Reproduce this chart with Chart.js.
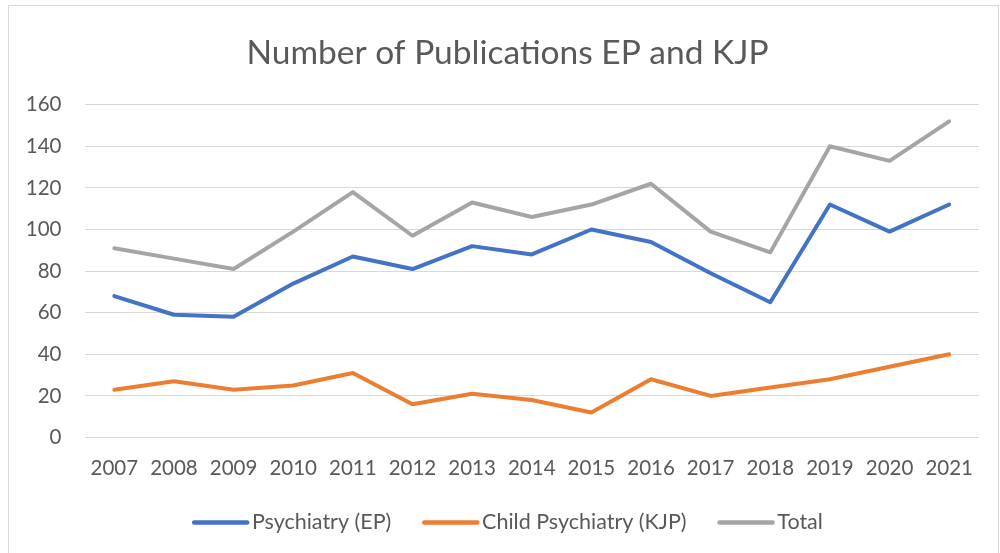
<!DOCTYPE html>
<html>
<head>
<meta charset="utf-8">
<script src="https://cdn.jsdelivr.net/npm/chart.js@4/dist/chart.umd.min.js"></script>
<style>
  html, body { margin: 0; padding: 0; background: #ffffff; }
  #wrap { width: 1000px; height: 553px; position: relative; }
</style>
</head>
<body>
<div id="wrap"><canvas id="c" width="1000" height="553"></canvas></div>
<script>
// Publication counts per year
const years = ['2007','2008','2009','2010','2011','2012','2013','2014','2015','2016','2017','2018','2019','2020','2021'];
const psychiatryEP = [68, 59, 58, 74, 87, 81, 92, 88, 100, 94, 79, 65, 112, 99, 112];
const childPsychiatryKJP = [23, 27, 23, 25, 31, 16, 21, 18, 12, 28, 20, 24, 28, 34, 40];
const total = [91, 86, 81, 99, 118, 97, 113, 106, 112, 122, 99, 89, 140, 133, 152];
const yTicks = [0, 20, 40, 60, 80, 100, 120, 140, 160];

const TEXT = '#595959';
const FONT = 'Lato, "Open Sans", sans-serif';

// Frame around the chart
const framePlugin = {
  id: 'frame',
  beforeDraw(chart) {
    const ctx = chart.ctx;
    ctx.save();
    ctx.fillStyle = '#ffffff';
    ctx.fillRect(0, 0, chart.width, chart.height);
    ctx.strokeStyle = '#d9d9d9';
    ctx.lineWidth = 1;
    ctx.strokeRect(8.5, 5.5, 990, 560);
    ctx.restore();
  }
};

// Title and legend are centred on the whole frame, not only the plot column
const centreBlocksPlugin = {
  id: 'centreBlocks',
  afterLayout(chart) {
    const shift = 18;
    [chart.titleBlock, chart.legend].forEach(b => {
      if (b) { b.left += shift; b.right += shift; }
    });
  }
};

// Legend keys drawn as short thick line segments
const legendLinePlugin = {
  id: 'legendLines',
  afterDraw(chart) {
    const lg = chart.legend;
    if (!lg || !lg.legendHitBoxes) return;
    const ctx = chart.ctx;
    ctx.save();
    lg.legendHitBoxes.forEach((box, i) => {
      const item = lg.legendItems[i];
      const ds = chart.data.datasets[item.datasetIndex];
      const yMid = Math.round(box.top + box.height / 2) + 0.5;
      ctx.strokeStyle = ds.borderColor;
      ctx.lineWidth = 4.5;
      ctx.lineCap = 'round';
      ctx.beginPath();
      ctx.moveTo(box.left + 2, yMid);
      ctx.lineTo(box.left + 55, yMid);
      ctx.stroke();
    });
    ctx.restore();
  }
};

new Chart(document.getElementById('c'), {
  type: 'line',
  data: {
    labels: years,
    datasets: [
      { label: 'Psychiatry (EP)', data: psychiatryEP, borderColor: '#4472C4', backgroundColor: '#4472C4' },
      { label: 'Child Psychiatry (KJP)', data: childPsychiatryKJP, borderColor: '#ED7D31', backgroundColor: '#ED7D31' },
      { label: 'Total', data: total, borderColor: '#A5A5A5', backgroundColor: '#A5A5A5' }
    ]
  },
  options: {
    responsive: false,
    animation: false,
    devicePixelRatio: 1,
    layout: { padding: { left: 0, right: 21, top: 0, bottom: 10 } },
    elements: {
      line: { borderWidth: 4, tension: 0, borderCapStyle: 'round', borderJoinStyle: 'round', fill: false },
      point: { radius: 0, hoverRadius: 0 }
    },
    plugins: {
      title: {
        display: true,
        text: 'Number of Publications EP and KJP',
        color: TEXT,
        font: { family: FONT, size: 33.5, weight: 'normal' },
        padding: { top: 33, bottom: 31.5 }
      },
      legend: {
        position: 'bottom',
        labels: {
          color: TEXT,
          font: { family: FONT, size: 21.5 },
          boxWidth: 49,
          boxHeight: 4,
          padding: 31,
          generateLabels(chart) {
            return chart.data.datasets.map((ds, i) => ({
              text: ds.label,
              fillStyle: 'rgba(0,0,0,0)',
              strokeStyle: 'rgba(0,0,0,0)',
              lineWidth: 0,
              fontColor: TEXT,
              hidden: false,
              datasetIndex: i
            }));
          }
        }
      },
      tooltip: { enabled: false }
    },
    scales: {
      x: {
        offset: true,
        grid: { display: false, drawTicks: false },
        border: { display: false },
        ticks: { color: TEXT, font: { family: FONT, size: 20.5 }, padding: 18.5, maxRotation: 0, autoSkip: false },
        afterFit(scale) { scale.height = 43; }
      },
      y: {
        min: 0,
        max: 160,
        afterBuildTicks(scale) { scale.ticks = yTicks.map(v => ({ value: v })); },
        grid: { color: '#d9d9d9', lineWidth: 1, drawTicks: false },
        border: { display: false },
        ticks: { color: TEXT, font: { family: FONT, size: 20.5 }, padding: 23 },
        afterFit(scale) { scale.width = 84.5; }
      }
    }
  },
  plugins: [framePlugin, centreBlocksPlugin, legendLinePlugin]
});
</script>
</body>
</html>
